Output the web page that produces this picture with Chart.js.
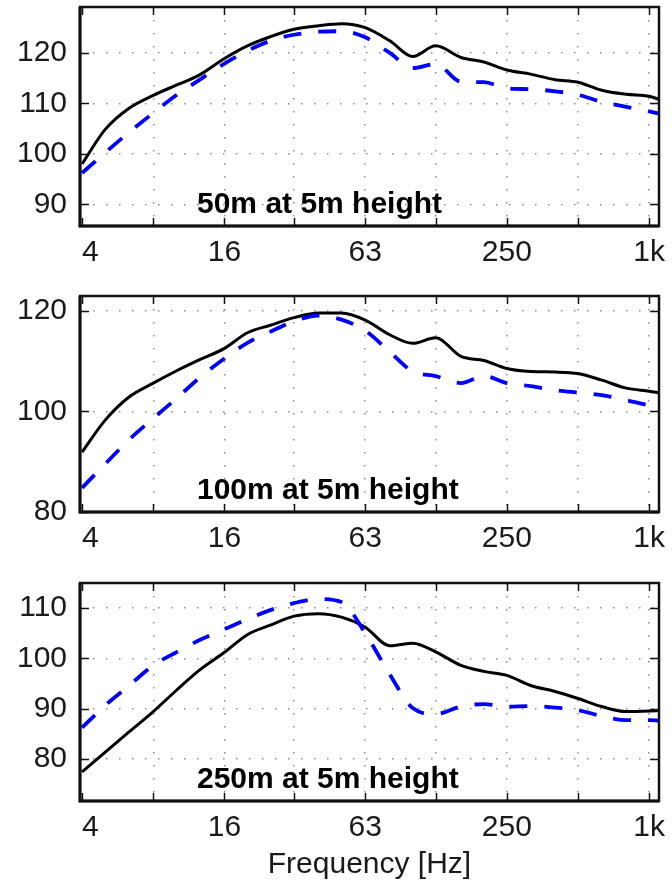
<!DOCTYPE html>
<html>
<head>
<meta charset="utf-8">
<script src="https://cdn.jsdelivr.net/npm/chart.js"></script>
<style>
  body { margin: 0; background: #fff; width: 672px; height: 883px; overflow: hidden; }
  canvas { position: absolute; left: 0; }
</style>
</head>
<body>
<canvas id="p50" width="672" height="280" style="top:0px"></canvas>
<canvas id="p100" width="672" height="277" style="top:289px"></canvas>
<canvas id="p250" width="672" height="307" style="top:576px"></canvas>
<script>
// third-octave band centres (last point = right edge of the plot)
const freqs = [4, 5, 6.3, 8, 10, 12.5, 16, 20, 25, 31.5, 40, 50, 63, 80, 100, 125, 160, 200, 250, 315, 400, 500, 630, 800, 1000, 1100];

// 50 m distance
const level50Solid = [98, 104.8, 109, 111.6, 113.6, 115.6, 118.9, 121.4, 123.2, 124.7, 125.4, 125.8, 125.0, 122.4, 119.3, 121.4, 119.1, 118.2, 116.6, 115.8, 114.7, 114.2, 112.6, 111.8, 111.4, 110.8];
const level50Dashed = [96.2, 100.2, 104.2, 108.1, 111.6, 114.6, 117.9, 120.4, 122.4, 123.6, 124.2, 124.3, 123.1, 120.0, 117.0, 117.8, 114.3, 114.2, 113.0, 112.8, 112.4, 111.7, 110.3, 109.3, 108.4, 108.0];

// 100 m distance
const level100Solid = [91.9, 98.2, 102.8, 105.6, 108.0, 110.2, 112.5, 115.6, 117.1, 118.6, 119.5, 119.5, 118.1, 115.2, 113.5, 114.6, 110.9, 110.1, 108.5, 107.9, 107.8, 107.5, 106.2, 104.6, 104.0, 103.7];
const level100Dashed = [84.8, 89.5, 94.3, 98.6, 102.5, 106.6, 110.5, 113.6, 115.8, 117.9, 119.0, 118.2, 116.0, 111.8, 107.9, 107.0, 105.6, 107.0, 105.6, 105.0, 104.2, 103.7, 103.2, 102.2, 101.2, 101.0];

// 250 m distance
const level250Solid = [77.4, 81.3, 85.3, 89.4, 93.6, 97.6, 101.2, 104.7, 106.6, 108.4, 108.9, 108.2, 106.2, 102.5, 103.0, 101.3, 98.6, 97.4, 96.6, 94.6, 93.4, 92.0, 90.4, 89.4, 89.5, 89.6];
const level250Dashed = [86.2, 90.6, 94.5, 98.6, 101.2, 103.6, 105.8, 107.8, 109.6, 111.0, 111.8, 111.2, 105.0, 96.8, 90.1, 88.9, 90.4, 90.9, 90.4, 90.5, 90.2, 89.7, 88.5, 87.7, 87.7, 87.6];

const xTickValues = [4, 8, 16, 31.5, 63, 125, 250, 500, 1000];
// leading spaces push the first label off the left border, like the original
const xTickLabels = ['\u00a0\u00a04', '', '16', '', '63', '', '250', '', '1k'];

const FONT = "'Liberation Sans', Arial, Helvetica, sans-serif";
const GRID = 'rgba(0,0,0,0.45)';

// box around the plot, inward tick marks, and the panel caption
const framePlugin = {
    id: 'frame',
    afterDatasetsDraw(chart, args, opts) {
        const { ctx, chartArea: a, scales } = chart;
        ctx.save();
        ctx.strokeStyle = '#111';
        ctx.lineWidth = 1.5;
        ctx.beginPath();
        xTickValues.forEach(v => {
            const px = Math.round(scales.x.getPixelForValue(v)) + 0.5;
            ctx.moveTo(px, a.bottom); ctx.lineTo(px, a.bottom - 8);
            ctx.moveTo(px, a.top); ctx.lineTo(px, a.top + 8);
        });
        scales.y.ticks.forEach(t => {
            const py = Math.round(scales.y.getPixelForValue(t.value)) + 0.5;
            ctx.moveTo(a.left, py); ctx.lineTo(a.left + 9, py);
            ctx.moveTo(a.right, py); ctx.lineTo(a.right - 9, py);
        });
        ctx.stroke();

        ctx.lineWidth = 2.5;
        ctx.strokeRect(a.left, a.top, a.right - a.left, a.bottom - a.top);
        // left and bottom axes a bit heavier
        ctx.lineWidth = 3;
        ctx.beginPath();
        ctx.moveTo(a.left, a.top); ctx.lineTo(a.left, a.bottom); ctx.lineTo(a.right, a.bottom);
        ctx.stroke();

        ctx.fillStyle = '#000';
        ctx.font = 'bold 30px ' + FONT;
        ctx.textBaseline = 'alphabetic';
        ctx.textAlign = 'left';
        ctx.fillText(opts.caption, a.left + 117, a.bottom - 13.5);
        ctx.restore();
    }
};

function makePanel(id, solid, dashed, yMin, yMax, yTicks, caption, axisHeight, withTitle) {
    new Chart(document.getElementById(id), {
        type: 'line',
        data: {
            labels: freqs,
            datasets: [
                {
                    data: freqs.map((f, i) => ({ x: f, y: dashed[i] })),
                    borderColor: '#0000ff',
                    borderWidth: 3.8,
                    borderDash: [18, 17],
                    borderCapStyle: 'butt',
                    pointRadius: 0,
                    cubicInterpolationMode: 'monotone',
                    fill: false
                },
                {
                    data: freqs.map((f, i) => ({ x: f, y: solid[i] })),
                    borderColor: '#000000',
                    borderWidth: 3,
                    borderJoinStyle: 'round',
                    pointRadius: 0,
                    cubicInterpolationMode: 'monotone',
                    fill: false
                }
            ]
        },
        options: {
            responsive: false,
            animation: false,
            devicePixelRatio: 1,
            layout: { padding: { left: 0, right: 13, top: 7, bottom: 0 } },
            plugins: {
                legend: { display: false },
                tooltip: { enabled: false },
                frame: { caption }
            },
            scales: {
                x: {
                    type: 'logarithmic',
                    min: 3.92,
                    max: 1100,
                    afterBuildTicks: s => { s.ticks = xTickValues.map(v => ({ value: v })); },
                    afterFit: s => { s.height = axisHeight; s.paddingLeft = 0; s.paddingRight = 0; },
                    ticks: {
                        autoSkip: false,
                        maxRotation: 0,
                        padding: 9,
                        color: '#1a1a1a',
                        font: { family: FONT, size: 30 },
                        callback: v => xTickLabels[xTickValues.indexOf(v)] ?? ''
                    },
                    grid: {
                        drawTicks: false,
                        lineWidth: 1.5,
                        color: c => (c.tick && c.tick.value === 4) ? 'rgba(0,0,0,0)' : GRID
                    },
                    border: { display: false, dash: [1.5, 11.5] },
                    title: {
                        display: withTitle,
                        text: 'Frequency [Hz]',
                        color: '#1a1a1a',
                        font: { family: FONT, size: 30 },
                        padding: { top: 0, bottom: 0 }
                    }
                },
                y: {
                    min: yMin,
                    max: yMax,
                    afterBuildTicks: s => { s.ticks = yTicks.map(v => ({ value: v })); },
                    afterFit: s => { s.width = 80; s.paddingTop = 0; s.paddingBottom = 0; },
                    ticks: {
                        padding: 13,
                        color: '#1a1a1a',
                        font: { family: FONT, size: 30 }
                    },
                    grid: { drawTicks: false, lineWidth: 1.5, color: GRID },
                    border: { display: false, dash: [1.5, 11.5] }
                }
            }
        },
        plugins: [framePlugin]
    });
}

makePanel('p50', level50Solid, level50Dashed, 85.7, 129.1, [90, 100, 110, 120], '50m at 5m height', 54, false);
makePanel('p100', level100Solid, level100Dashed, 80, 122.9, [80, 100, 120], '100m at 5m height', 54, false);
makePanel('p250', level250Solid, level250Dashed, 71.6, 115, [80, 90, 100, 110], '250m at 5m height', 82, true);
</script>
</body>
</html>
